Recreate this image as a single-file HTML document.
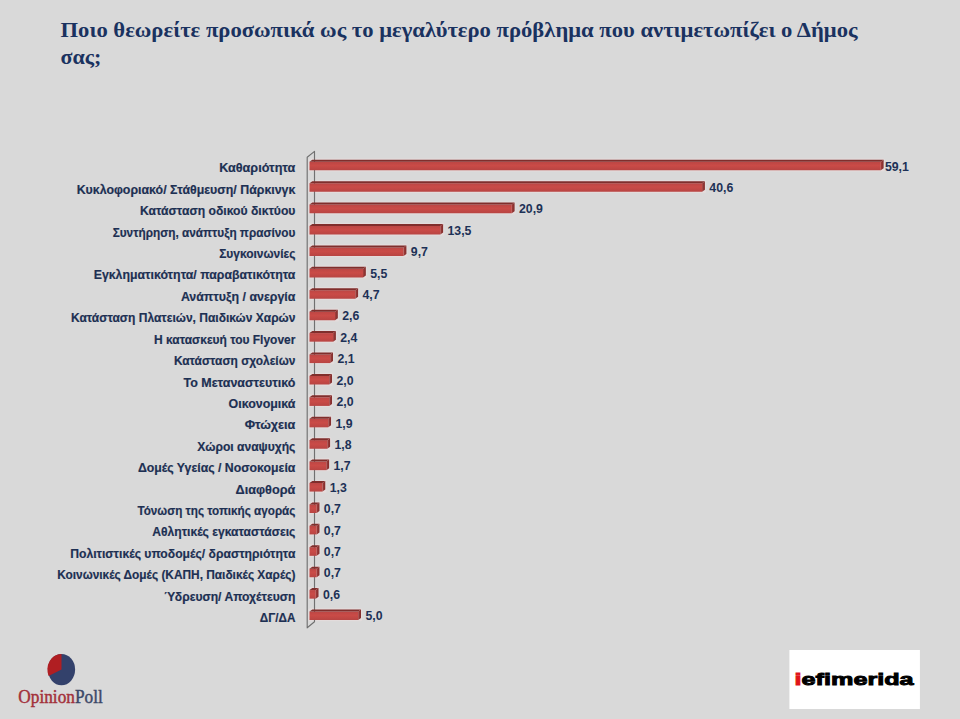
<!DOCTYPE html>
<html><head><meta charset="utf-8"><style>
html,body{margin:0;padding:0;background:#D9D9D9;width:960px;height:719px;overflow:hidden}
svg{position:absolute;left:0;top:0}
.lab{font-family:"Liberation Sans",sans-serif;font-weight:bold;font-size:12.2px;fill:#1D3053;stroke:#1D3053;stroke-width:0.18px}
.val{font-family:"Liberation Sans",sans-serif;font-weight:bold;font-size:12.3px;fill:#1D3156}
.title{font-family:"Liberation Serif",serif;font-weight:bold;font-size:22px;fill:#1A3260}
</style></head><body>
<svg width="960" height="719" viewBox="0 0 960 719">
<text x="60.5" y="37" class="title" textLength="797" lengthAdjust="spacingAndGlyphs">Ποιο θεωρείτε προσωπικά ως το μεγαλύτερο πρόβλημα που αντιμετωπίζει ο Δήμος</text>
<text x="60.5" y="63.5" class="title">σας;</text>
<defs>
<linearGradient id="fg" x1="0" y1="0" x2="0" y2="1"><stop offset="0" stop-color="#BC4644"/><stop offset="0.45" stop-color="#CA4B47"/><stop offset="1" stop-color="#B84442"/></linearGradient>
<linearGradient id="sg" x1="0" y1="0" x2="1" y2="0"><stop offset="0" stop-color="#A23D3B"/><stop offset="1" stop-color="#7E2C2B"/></linearGradient>
</defs>
<rect x="308.30" y="158.55" width="576.51" height="13.00" rx="1.5" fill="#E3DCDC"/>
<rect x="308.30" y="179.97" width="397.80" height="13.00" rx="1.5" fill="#E3DCDC"/>
<rect x="308.30" y="201.38" width="207.49" height="13.00" rx="1.5" fill="#E3DCDC"/>
<rect x="308.30" y="222.80" width="136.01" height="13.00" rx="1.5" fill="#E3DCDC"/>
<rect x="308.30" y="244.21" width="99.30" height="13.00" rx="1.5" fill="#E3DCDC"/>
<rect x="308.30" y="265.62" width="58.73" height="13.00" rx="1.5" fill="#E3DCDC"/>
<rect x="308.30" y="287.04" width="51.00" height="13.00" rx="1.5" fill="#E3DCDC"/>
<rect x="308.30" y="308.45" width="30.72" height="13.00" rx="1.5" fill="#E3DCDC"/>
<rect x="308.30" y="329.87" width="28.78" height="13.00" rx="1.5" fill="#E3DCDC"/>
<rect x="308.30" y="351.29" width="25.89" height="13.00" rx="1.5" fill="#E3DCDC"/>
<rect x="308.30" y="372.70" width="24.92" height="13.00" rx="1.5" fill="#E3DCDC"/>
<rect x="308.30" y="394.12" width="24.92" height="13.00" rx="1.5" fill="#E3DCDC"/>
<rect x="308.30" y="415.53" width="23.95" height="13.00" rx="1.5" fill="#E3DCDC"/>
<rect x="308.30" y="436.94" width="22.99" height="13.00" rx="1.5" fill="#E3DCDC"/>
<rect x="308.30" y="458.36" width="22.02" height="13.00" rx="1.5" fill="#E3DCDC"/>
<rect x="308.30" y="479.77" width="18.16" height="13.00" rx="1.5" fill="#E3DCDC"/>
<rect x="308.30" y="501.19" width="12.36" height="13.00" rx="1.5" fill="#E3DCDC"/>
<rect x="308.30" y="522.61" width="12.36" height="13.00" rx="1.5" fill="#E3DCDC"/>
<rect x="308.30" y="544.02" width="12.36" height="13.00" rx="1.5" fill="#E3DCDC"/>
<rect x="308.30" y="565.43" width="12.36" height="13.00" rx="1.5" fill="#E3DCDC"/>
<rect x="308.30" y="586.85" width="11.40" height="13.00" rx="1.5" fill="#E3DCDC"/>
<rect x="308.30" y="608.26" width="53.90" height="13.00" rx="1.5" fill="#E3DCDC"/>
<polygon points="307.2,157.2 314.5,151.4 314.5,621.8 307.2,627.8" fill="none" stroke="#707070" stroke-width="1.15" stroke-linejoin="round"/>
<text x="219.20" y="172.35" class="lab" textLength="76.20" lengthAdjust="spacingAndGlyphs">Καθαριότητα</text>
<text x="76.70" y="193.76" class="lab" textLength="218.70" lengthAdjust="spacingAndGlyphs">Κυκλοφοριακό/ Στάθμευση/ Πάρκινγκ</text>
<text x="140.00" y="215.18" class="lab" textLength="155.40" lengthAdjust="spacingAndGlyphs">Κατάσταση οδικού δικτύου</text>
<text x="112.70" y="236.59" class="lab" textLength="182.70" lengthAdjust="spacingAndGlyphs">Συντήρηση, ανάπτυξη πρασίνου</text>
<text x="219.20" y="258.01" class="lab" textLength="76.20" lengthAdjust="spacingAndGlyphs">Συγκοινωνίες</text>
<text x="93.70" y="279.42" class="lab" textLength="201.70" lengthAdjust="spacingAndGlyphs">Εγκληματικότητα/ παραβατικότητα</text>
<text x="180.90" y="300.84" class="lab" textLength="114.50" lengthAdjust="spacingAndGlyphs">Ανάπτυξη / ανεργία</text>
<text x="71.00" y="322.25" class="lab" textLength="224.40" lengthAdjust="spacingAndGlyphs">Κατάσταση Πλατειών, Παιδικών Χαρών</text>
<text x="154.10" y="343.67" class="lab" textLength="141.30" lengthAdjust="spacingAndGlyphs">Η κατασκευή του Flyover</text>
<text x="173.90" y="365.08" class="lab" textLength="121.50" lengthAdjust="spacingAndGlyphs">Κατάσταση σχολείων</text>
<text x="183.50" y="386.50" class="lab" textLength="111.90" lengthAdjust="spacingAndGlyphs">Το Μεταναστευτικό</text>
<text x="228.60" y="407.91" class="lab" textLength="66.80" lengthAdjust="spacingAndGlyphs">Οικονομικά</text>
<text x="244.70" y="429.33" class="lab" textLength="50.70" lengthAdjust="spacingAndGlyphs">Φτώχεια</text>
<text x="197.30" y="450.75" class="lab" textLength="98.10" lengthAdjust="spacingAndGlyphs">Χώροι αναψυχής</text>
<text x="137.90" y="472.16" class="lab" textLength="157.50" lengthAdjust="spacingAndGlyphs">Δομές Υγείας / Νοσοκομεία</text>
<text x="235.60" y="493.57" class="lab" textLength="59.80" lengthAdjust="spacingAndGlyphs">Διαφθορά</text>
<text x="137.40" y="514.99" class="lab" textLength="158.00" lengthAdjust="spacingAndGlyphs">Τόνωση της τοπικής αγοράς</text>
<text x="152.30" y="536.40" class="lab" textLength="143.10" lengthAdjust="spacingAndGlyphs">Αθλητικές εγκαταστάσεις</text>
<text x="70.20" y="557.82" class="lab" textLength="225.20" lengthAdjust="spacingAndGlyphs">Πολιτιστικές υποδομές/ δραστηριότητα</text>
<text x="57.20" y="579.24" class="lab" textLength="238.20" lengthAdjust="spacingAndGlyphs">Κοινωνικές Δομές (ΚΑΠΗ, Παιδικές Χαρές)</text>
<text x="164.00" y="600.65" class="lab" textLength="131.40" lengthAdjust="spacingAndGlyphs">Ύδρευση/ Αποχέτευση</text>
<text x="259.80" y="622.06" class="lab" textLength="35.60" lengthAdjust="spacingAndGlyphs">ΔΓ/ΔΑ</text>
<polygon points="309.5,161.75 880.81,161.75 880.81,170.35 309.5,170.35" fill="url(#fg)"/><polygon points="309.5,161.75 312.30,159.75 883.61,159.75 880.81,161.75" fill="#802E2C"/><polygon points="880.81,161.75 883.61,159.75 883.61,168.35 880.81,170.35" fill="url(#sg)"/>
<text x="884.91" y="170.55" class="val">59,1</text>
<polygon points="309.5,183.16 702.10,183.16 702.10,191.76 309.5,191.76" fill="url(#fg)"/><polygon points="309.5,183.16 312.30,181.16 704.90,181.16 702.10,183.16" fill="#802E2C"/><polygon points="702.10,183.16 704.90,181.16 704.90,189.76 702.10,191.76" fill="url(#sg)"/>
<text x="709.30" y="191.96" class="val">40,6</text>
<polygon points="309.5,204.58 511.79,204.58 511.79,213.18 309.5,213.18" fill="url(#fg)"/><polygon points="309.5,204.58 312.30,202.58 514.59,202.58 511.79,204.58" fill="#802E2C"/><polygon points="511.79,204.58 514.59,202.58 514.59,211.18 511.79,213.18" fill="url(#sg)"/>
<text x="518.99" y="213.38" class="val">20,9</text>
<polygon points="309.5,226.00 440.31,226.00 440.31,234.59 309.5,234.59" fill="url(#fg)"/><polygon points="309.5,226.00 312.30,224.00 443.11,224.00 440.31,226.00" fill="#802E2C"/><polygon points="440.31,226.00 443.11,224.00 443.11,232.59 440.31,234.59" fill="url(#sg)"/>
<text x="447.51" y="234.79" class="val">13,5</text>
<polygon points="309.5,247.41 403.60,247.41 403.60,256.01 309.5,256.01" fill="url(#fg)"/><polygon points="309.5,247.41 312.30,245.41 406.40,245.41 403.60,247.41" fill="#802E2C"/><polygon points="403.60,247.41 406.40,245.41 406.40,254.01 403.60,256.01" fill="url(#sg)"/>
<text x="410.80" y="256.21" class="val">9,7</text>
<polygon points="309.5,268.82 363.03,268.82 363.03,277.43 309.5,277.43" fill="url(#fg)"/><polygon points="309.5,268.82 312.30,266.82 365.83,266.82 363.03,268.82" fill="#802E2C"/><polygon points="363.03,268.82 365.83,266.82 365.83,275.43 363.03,277.43" fill="url(#sg)"/>
<text x="370.23" y="277.62" class="val">5,5</text>
<polygon points="309.5,290.24 355.30,290.24 355.30,298.84 309.5,298.84" fill="url(#fg)"/><polygon points="309.5,290.24 312.30,288.24 358.10,288.24 355.30,290.24" fill="#802E2C"/><polygon points="355.30,290.24 358.10,288.24 358.10,296.84 355.30,298.84" fill="url(#sg)"/>
<text x="362.50" y="299.04" class="val">4,7</text>
<polygon points="309.5,311.65 335.02,311.65 335.02,320.25 309.5,320.25" fill="url(#fg)"/><polygon points="309.5,311.65 312.30,309.65 337.82,309.65 335.02,311.65" fill="#802E2C"/><polygon points="335.02,311.65 337.82,309.65 337.82,318.25 335.02,320.25" fill="url(#sg)"/>
<text x="342.22" y="320.45" class="val">2,6</text>
<polygon points="309.5,333.07 333.08,333.07 333.08,341.67 309.5,341.67" fill="url(#fg)"/><polygon points="309.5,333.07 312.30,331.07 335.88,331.07 333.08,333.07" fill="#802E2C"/><polygon points="333.08,333.07 335.88,331.07 335.88,339.67 333.08,341.67" fill="url(#sg)"/>
<text x="340.28" y="341.87" class="val">2,4</text>
<polygon points="309.5,354.49 330.19,354.49 330.19,363.09 309.5,363.09" fill="url(#fg)"/><polygon points="309.5,354.49 312.30,352.49 332.99,352.49 330.19,354.49" fill="#802E2C"/><polygon points="330.19,354.49 332.99,352.49 332.99,361.09 330.19,363.09" fill="url(#sg)"/>
<text x="337.39" y="363.28" class="val">2,1</text>
<polygon points="309.5,375.90 329.22,375.90 329.22,384.50 309.5,384.50" fill="url(#fg)"/><polygon points="309.5,375.90 312.30,373.90 332.02,373.90 329.22,375.90" fill="#802E2C"/><polygon points="329.22,375.90 332.02,373.90 332.02,382.50 329.22,384.50" fill="url(#sg)"/>
<text x="336.42" y="384.70" class="val">2,0</text>
<polygon points="309.5,397.31 329.22,397.31 329.22,405.92 309.5,405.92" fill="url(#fg)"/><polygon points="309.5,397.31 312.30,395.31 332.02,395.31 329.22,397.31" fill="#802E2C"/><polygon points="329.22,397.31 332.02,395.31 332.02,403.92 329.22,405.92" fill="url(#sg)"/>
<text x="336.42" y="406.11" class="val">2,0</text>
<polygon points="309.5,418.73 328.25,418.73 328.25,427.33 309.5,427.33" fill="url(#fg)"/><polygon points="309.5,418.73 312.30,416.73 331.05,416.73 328.25,418.73" fill="#802E2C"/><polygon points="328.25,418.73 331.05,416.73 331.05,425.33 328.25,427.33" fill="url(#sg)"/>
<text x="335.45" y="427.53" class="val">1,9</text>
<polygon points="309.5,440.14 327.29,440.14 327.29,448.75 309.5,448.75" fill="url(#fg)"/><polygon points="309.5,440.14 312.30,438.14 330.09,438.14 327.29,440.14" fill="#802E2C"/><polygon points="327.29,440.14 330.09,438.14 330.09,446.75 327.29,448.75" fill="url(#sg)"/>
<text x="334.49" y="448.94" class="val">1,8</text>
<polygon points="309.5,461.56 326.32,461.56 326.32,470.16 309.5,470.16" fill="url(#fg)"/><polygon points="309.5,461.56 312.30,459.56 329.12,459.56 326.32,461.56" fill="#802E2C"/><polygon points="326.32,461.56 329.12,459.56 329.12,468.16 326.32,470.16" fill="url(#sg)"/>
<text x="333.52" y="470.36" class="val">1,7</text>
<polygon points="309.5,482.97 322.46,482.97 322.46,491.57 309.5,491.57" fill="url(#fg)"/><polygon points="309.5,482.97 312.30,480.97 325.26,480.97 322.46,482.97" fill="#802E2C"/><polygon points="322.46,482.97 325.26,480.97 325.26,489.57 322.46,491.57" fill="url(#sg)"/>
<text x="329.66" y="491.77" class="val">1,3</text>
<polygon points="309.5,504.39 316.66,504.39 316.66,512.99 309.5,512.99" fill="url(#fg)"/><polygon points="309.5,504.39 312.30,502.39 319.46,502.39 316.66,504.39" fill="#802E2C"/><polygon points="316.66,504.39 319.46,502.39 319.46,510.99 316.66,512.99" fill="url(#sg)"/>
<text x="323.86" y="513.19" class="val">0,7</text>
<polygon points="309.5,525.81 316.66,525.81 316.66,534.41 309.5,534.41" fill="url(#fg)"/><polygon points="309.5,525.81 312.30,523.81 319.46,523.81 316.66,525.81" fill="#802E2C"/><polygon points="316.66,525.81 319.46,523.81 319.46,532.41 316.66,534.41" fill="url(#sg)"/>
<text x="323.86" y="534.61" class="val">0,7</text>
<polygon points="309.5,547.22 316.66,547.22 316.66,555.82 309.5,555.82" fill="url(#fg)"/><polygon points="309.5,547.22 312.30,545.22 319.46,545.22 316.66,547.22" fill="#802E2C"/><polygon points="316.66,547.22 319.46,545.22 319.46,553.82 316.66,555.82" fill="url(#sg)"/>
<text x="323.86" y="556.02" class="val">0,7</text>
<polygon points="309.5,568.63 316.66,568.63 316.66,577.24 309.5,577.24" fill="url(#fg)"/><polygon points="309.5,568.63 312.30,566.63 319.46,566.63 316.66,568.63" fill="#802E2C"/><polygon points="316.66,568.63 319.46,566.63 319.46,575.24 316.66,577.24" fill="url(#sg)"/>
<text x="323.86" y="577.44" class="val">0,7</text>
<polygon points="309.5,590.05 315.70,590.05 315.70,598.65 309.5,598.65" fill="url(#fg)"/><polygon points="309.5,590.05 312.30,588.05 318.50,588.05 315.70,590.05" fill="#802E2C"/><polygon points="315.70,590.05 318.50,588.05 318.50,596.65 315.70,598.65" fill="url(#sg)"/>
<text x="322.90" y="598.85" class="val">0,6</text>
<polygon points="309.5,611.46 358.20,611.46 358.20,620.06 309.5,620.06" fill="url(#fg)"/><polygon points="309.5,611.46 312.30,609.46 361.00,609.46 358.20,611.46" fill="#802E2C"/><polygon points="358.20,611.46 361.00,609.46 361.00,618.06 358.20,620.06" fill="url(#sg)"/>
<text x="365.40" y="620.26" class="val">5,0</text>
<g>
<ellipse cx="61.5" cy="669.6" rx="13.6" ry="15.6" fill="#33416B"/>
<path d="M61.5,669.6 L61.5,654 A13.6,15.6 0 0 0 48.6,676 Z" fill="#B01E22"/>
</g>
<text x="18.3" y="703" textLength="84.5" lengthAdjust="spacingAndGlyphs" style="font-family:'Liberation Serif',serif;font-size:18.5px"><tspan fill="#A3303A" stroke="#A3303A" stroke-width="0.45">Opinion</tspan><tspan fill="#3C4868" stroke="#3C4868" stroke-width="0.45">Poll</tspan></text>
<rect x="789.4" y="650" width="130.5" height="59" fill="#FFFFFF"/>
<text x="794.6" y="685.1" textLength="119" lengthAdjust="spacingAndGlyphs" style="font-family:'Liberation Sans',sans-serif;font-weight:bold;font-size:17px" fill="#000" stroke="#000" stroke-width="0.9"><tspan fill="#E0141A" stroke="#E0141A">i</tspan>efimerida</text>
</svg>
</body></html>
